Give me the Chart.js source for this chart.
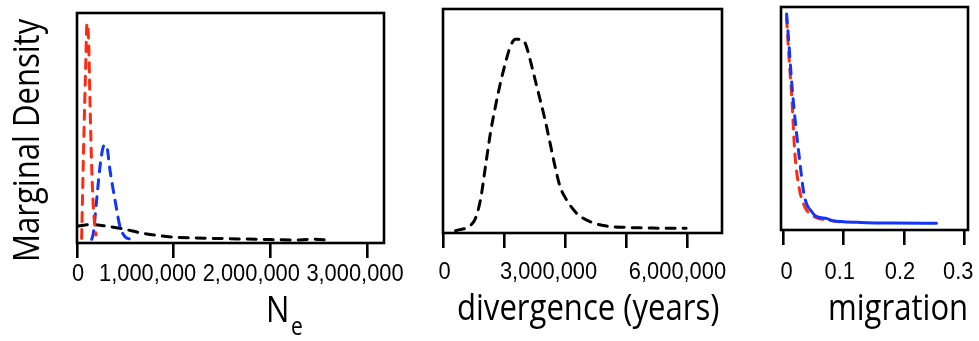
<!DOCTYPE html>
<html><head><meta charset="utf-8">
<script src="https://cdn.jsdelivr.net/npm/chart.js@4.4.1/dist/chart.umd.min.js"></script>
<style>
html,body{margin:0;padding:0;background:#fff;}
#wrap{position:relative;width:979px;height:341px;overflow:hidden;background:#fff;}
canvas{position:absolute;left:0;top:0;}
</style></head><body>
<div id="wrap">
<canvas id="cNe" width="979" height="341"></canvas>
<canvas id="cDiv" width="979" height="341"></canvas>
<canvas id="cMig" width="979" height="341"></canvas>
</div>
<script>
// ---------------- data ----------------
// Panel 1: Ne
const neTicks = [0, 1000000, 2000000, 3000000];
const neTickLabels = ['0', '1,000,000', '2,000,000', '3,000,000'];
const neRedX = [48000, 72000, 90000, 103000, 121000, 134000, 152000, 169000, 196000];
const neRedY = [2.0, 47.7, 76.7, 95.5, 86.8, 62.0, 33.0, 15.8, 3.5];
const neBlueX = [152000, 169000, 203000, 238000, 272000, 290000, 307000, 341000, 393000, 445000, 497000, 548000];
const neBlueY = [1.6, 4.2, 18.7, 33.2, 41.9, 42.6, 42.1, 31.7, 18.7, 7.1, 2.7, 1.7];
const neBlackX = [14000, 134000, 272000, 445000, 686000, 928000, 1203000, 1548000, 1892000, 2237000, 2444000, 2634000];
const neBlackY = [7.4, 8.0, 7.5, 6.4, 4.2, 2.8, 2.2, 1.9, 1.6, 1.3, 1.6, 1.2];

// Panel 2: divergence (years)
const divTicks = [0, 1500000, 3000000, 4500000, 6000000];
const divLabelValues = [0, 3000000, 6000000];
const divTickLabels = ['0', '3,000,000', '6,000,000'];
const divX = [294000, 743000, 906000, 1029000, 1151000, 1274000, 1396000, 1518000, 1641000, 1763000, 1886000, 2008000, 2131000, 2253000, 2376000, 2498000, 2621000, 2743000, 2866000, 3029000, 3274000, 3600000, 4009000, 4499000, 5152000, 5968000];
const divY = [1.0, 5.1, 14.7, 29.6, 44.5, 56.4, 66.8, 75.7, 83.2, 86.5, 86.5, 84.7, 77.2, 68.3, 59.4, 50.4, 40.0, 29.6, 20.7, 14.7, 8.8, 5.1, 3.1, 2.5, 2.2, 2.1];

// Panel 3: migration
const migTicks = [0, 0.1, 0.2, 0.3];
const migTickLabels = ['0', '0.1', '0.2', '0.3'];
const migBlueX = [0.005, 0.0088, 0.0127, 0.017, 0.0215, 0.0253, 0.0292, 0.0336, 0.0391, 0.0446, 0.0529, 0.0722, 0.0804, 0.0997, 0.127, 0.182, 0.254];
const migBlueY = [96.9, 83.7, 68.8, 55.3, 43.4, 34.4, 25.4, 16.4, 11.2, 9.0, 6.3, 5.1, 4.2, 3.7, 3.4, 3.1, 3.0];
const migRedX = [0.005, 0.0088, 0.0139, 0.0183, 0.0255, 0.0353, 0.045, 0.055, 0.075, 0.1];
const migRedY = [95, 78, 58.3, 35.9, 19.4, 10.4, 7.0, 5.5, 4.4, 3.4];
const migSolidFrom = 0.044;

// ---------------- styles ----------------
const RED = '#ff2a10', BLUE = '#1234ff', BLACK = '#000000';
const LW = 3, BOX_LW = 2.6, DASH = [9, 8];
const TICK_FONT = '23px "Liberation Sans", Arial, sans-serif';
const TICK_SX = 0.95;
const TITLE_FONT = '37px "Open Sans", "Noto Sans", sans-serif';
const SUB_FONT = '25px "Open Sans", "Noto Sans", sans-serif';
const TITLE_SX = 0.84;

const pts = (xs, ys) => xs.map((x, i) => ({x, y: ys[i]}));
const line = (xs, ys, color, extra) => Object.assign({
  data: pts(xs, ys), borderColor: color, borderWidth: LW, borderDash: DASH,
  borderCapStyle: 'round', borderJoinStyle: 'round', pointRadius: 0,
  cubicInterpolationMode: 'monotone', fill: false
}, extra || {});

const framePlugin = {
  id: 'frame',
  afterDraw(chart, args, o) {
    const {ctx, chartArea: a} = chart;
    const x = chart.scales.x;
    ctx.save();
    ctx.lineWidth = BOX_LW; ctx.strokeStyle = BLACK;
    ctx.strokeRect(a.left, a.top, a.right - a.left, a.bottom - a.top);
    ctx.fillStyle = BLACK; ctx.font = TICK_FONT;
    ctx.textAlign = 'center'; ctx.textBaseline = 'alphabetic';
    o.labels.forEach((t, i) => {
      ctx.save();
      ctx.translate(x.getPixelForValue(o.values[i]) + o.shifts[i], o.baseline);
      ctx.scale(TICK_SX, 1);
      ctx.fillText(t, 0, 0);
      ctx.restore();
    });
    (o.titles || []).forEach(t => {
      ctx.save();
      ctx.font = t.font; ctx.textAlign = 'left';
      ctx.translate(t.x, t.y);
      if (t.rot) ctx.rotate(t.rot);
      ctx.scale(TITLE_SX, 1);
      ctx.fillText(t.text, 0, 0);
      ctx.restore();
    });
    ctx.restore();
  }
};

function makeChart(id, datasets, xcfg, pad, frameOpts) {
  return new Chart(document.getElementById(id), {
    type: 'line',
    data: {datasets},
    plugins: [framePlugin],
    options: {
      responsive: false, animation: false, events: [],
      layout: {padding: pad},
      plugins: {legend: {display: false}, tooltip: {enabled: false}, frame: frameOpts},
      scales: {
        x: {
          type: 'linear', min: xcfg.min, max: xcfg.max,
          afterBuildTicks: s => { s.ticks = xcfg.ticks.map(v => ({value: v})); },
          afterFit: s => { s.height = 40; },
          grid: {drawOnChartArea: false, drawTicks: true, tickLength: 15, color: BLACK, lineWidth: BOX_LW},
          border: {display: false},
          ticks: {display: false}
        },
        y: {type: 'linear', display: false, min: 0, max: 100}
      }
    }
  });
}

makeChart('cNe', [
  line(neRedX, neRedY, RED),
  line(neBlueX, neBlueY, BLUE),
  line(neBlackX, neBlackY, BLACK)
], {min: 0, max: 3176000, ticks: neTicks},
{left: 77, top: 13, right: 979 - 384, bottom: 58},
{labels: neTickLabels, values: neTicks, shifts: [1, -26, -19, -12], baseline: 281,
 titles: [
   {text: 'Marginal Density', x: 39, y: 262, rot: -Math.PI / 2, font: TITLE_FONT},
   {text: 'N', x: 266, y: 322, font: TITLE_FONT},
   {text: 'e', x: 291, y: 335, font: SUB_FONT},
   {text: 'divergence (years)', x: 457, y: 320, font: TITLE_FONT},
   {text: 'migration', x: 828, y: 320, font: TITLE_FONT}
 ]});

makeChart('cDiv', [
  line(divX, divY, BLACK)
], {min: -15000, max: 6850000, ticks: divTicks},
{left: 443, top: 9, right: 979 - 722, bottom: 68},
{labels: divTickLabels, values: divLabelValues, shifts: [1, -17, -10], baseline: 279});

makeChart('cMig', [
  line(migBlueX, migBlueY, BLUE, {segment: {borderDash: c => c.p0.parsed.x < migSolidFrom ? DASH : []}}),
  line(migRedX, migRedY, RED)
], {min: -0.0043, max: 0.3063, ticks: migTicks},
{left: 781, top: 7, right: 979 - 968, bottom: 71},
{labels: migTickLabels, values: migTicks, shifts: [3, -4, -4, -6], baseline: 279});
</script>
</body></html>
